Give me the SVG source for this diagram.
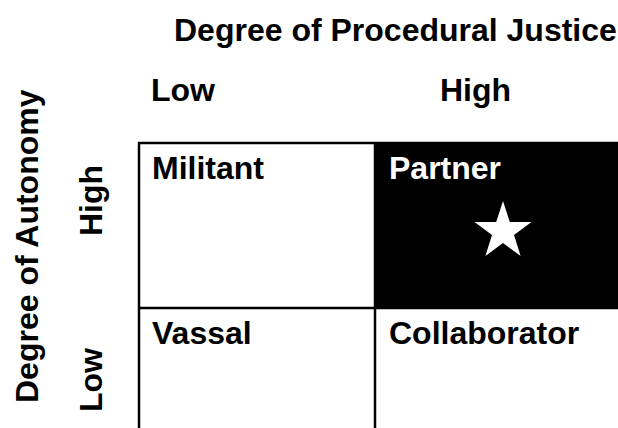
<svg xmlns="http://www.w3.org/2000/svg" width="618" height="428" viewBox="0 0 618 428">
<style>
text{font-family:"Liberation Sans",Arial,sans-serif;font-weight:bold;font-size:32px;fill:#000}
.w{fill:#fff}
.ln{stroke:#000;stroke-width:2.5;fill:none}
</style>
<rect width="618" height="428" fill="#fff"/>
<g id="axis-labels">
<text x="174" y="41">Degree of Procedural Justice</text>
<text x="151" y="101">Low</text>
<text x="440" y="101">High</text>
<text transform="translate(38,403) rotate(-90)">Degree of Autonomy</text>
<text transform="translate(102,236) rotate(-90)">High</text>
<text transform="translate(102,412) rotate(-90)">Low</text>
</g>
<g id="partner">
<rect x="375" y="143" width="243" height="165" fill="#000"/>
<text class="w" x="389" y="179">Partner</text>
<polygon fill="#fff" points="503,201 509.8,222 531.5,222 514,235 520.6,256 503,243 485.4,256 492,235 474.5,222 496.2,222"/>
</g>
<g id="militant"><text x="152" y="179">Militant</text></g>
<g id="vassal"><text x="152" y="344">Vassal</text></g>
<g id="collaborator"><text x="389" y="344">Collaborator</text></g>
<g id="grid">
<path class="ln" d="M139,428 V143 H618 M375,143 V428 M139,308 H618"/>
</g>
</svg>
